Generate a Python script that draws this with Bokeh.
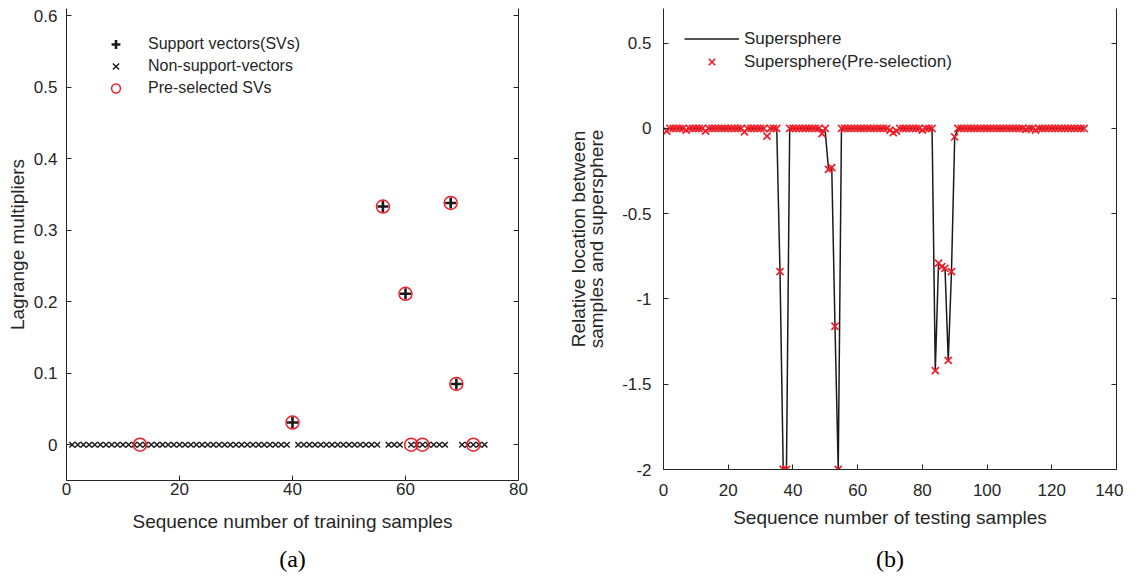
from bokeh.plotting import figure
from bokeh.layouts import row
from bokeh.models import (LinearAxis, FixedTicker, Legend, LegendItem, Title, Range1d,
                          CustomJSTickFormatter)
from bokeh.embed import file_html
from bokeh.resources import INLINE

# ---------------- data: panel (a) ----------------
nonsv_seq = [1, 2, 3, 4, 5, 6, 7, 8, 9, 10, 11, 12, 13, 14, 15, 16, 17, 18, 19, 20,
             21, 22, 23, 24, 25, 26, 27, 28, 29, 30, 31, 32, 33, 34, 35, 36, 37, 38, 39,
             41, 42, 43, 44, 45, 46, 47, 48, 49, 50, 51, 52, 53, 54, 55,
             57, 58, 59, 61, 62, 63, 64, 65, 66, 67, 70, 71, 72, 73, 74]
nonsv_val = [0, 0, 0, 0, 0, 0, 0, 0, 0, 0, 0, 0, 0, 0, 0, 0, 0, 0, 0, 0,
             0, 0, 0, 0, 0, 0, 0, 0, 0, 0, 0, 0, 0, 0, 0, 0, 0, 0, 0,
             0, 0, 0, 0, 0, 0, 0, 0, 0, 0, 0, 0, 0, 0, 0,
             0, 0, 0, 0, 0, 0, 0, 0, 0, 0, 0, 0, 0, 0, 0]
sv_seq = [40, 56, 60, 68, 69]
sv_val = [0.031, 0.333, 0.211, 0.338, 0.085]
presel_seq = [13, 40, 56, 60, 61, 63, 68, 69, 72]
presel_val = [0, 0.031, 0.333, 0.211, 0, 0, 0.338, 0.085, 0]

a_xticks = [0, 20, 40, 60, 80]
a_xlabels = ["0", "20", "40", "60", "80"]
a_yticks = [0, 0.1, 0.2, 0.3, 0.4, 0.5, 0.6]
a_ylabels = ["0", "0.1", "0.2", "0.3", "0.4", "0.5", "0.6"]

# ---------------- data: panel (b) ----------------
test_seq = list(range(1, 131))
sphere_val = [
    -0.015, 0, 0, 0, 0, 0, -0.01, 0, 0, 0,
    0, 0, -0.015, 0, 0, 0, 0, 0, 0, 0,
    0, 0, 0, 0, -0.02, 0, 0, 0, 0, 0,
    0, -0.02, 0, 0, 0, -0.84, -2, -2, 0, 0,
    0, 0, 0, 0, 0, 0, 0, 0, -0.01, -0.02,
    -0.24, -0.23, -1.16, -2, 0, 0, 0, 0, 0, 0,
    0, 0, 0, 0, 0, 0, 0, 0, 0, -0.01,
    -0.025, -0.015, 0, 0, 0, 0, 0, 0, 0, -0.01,
    0, 0, 0, -1.42, -0.79, -0.81, -0.82, -1.36, -0.84, -0.05,
    0, 0, 0, 0, 0, 0, 0, 0, 0, 0,
    0, 0, 0, 0, 0, 0, 0, 0, 0, 0,
    0, -0.005, 0, 0, -0.01, 0, 0, 0, 0, 0,
    0, 0, 0, 0, 0, 0, 0, 0, 0, 0]
presphere_val = [
    -0.015, 0, 0, 0, 0, 0, -0.01, 0, 0, 0,
    0, 0, -0.015, 0, 0, 0, 0, 0, 0, 0,
    0, 0, 0, 0, -0.02, 0, 0, 0, 0, 0,
    0, -0.045, 0, 0, 0, -0.84, -2, -2, 0, 0,
    0, 0, 0, 0, 0, 0, 0, 0, -0.03, 0,
    -0.24, -0.23, -1.16, -2, 0, 0, 0, 0, 0, 0,
    0, 0, 0, 0, 0, 0, 0, 0, 0, -0.01,
    -0.025, -0.015, 0, 0, 0, 0, 0, 0, 0, -0.01,
    0, 0, 0, -1.42, -0.79, -0.81, -0.82, -1.36, -0.84, -0.05,
    0, 0, 0, 0, 0, 0, 0, 0, 0, 0,
    0, 0, 0, 0, 0, 0, 0, 0, 0, 0,
    0, -0.005, 0, 0, -0.01, 0, 0, 0, 0, 0,
    0, 0, 0, 0, 0, 0, 0, 0, 0, 0]

b_xticks = [0, 20, 40, 60, 80, 100, 120, 140]
b_xlabels = ["0", "20", "40", "60", "80", "100", "120", "140"]
b_yticks = [-2, -1.5, -1, -0.5, 0, 0.5]
b_ylabels = ["-2", "-1.5", "-1", "-0.5", "0", "0.5"]

# ---------------- styling ----------------
FONT = "Liberation Sans"
SERIF = "Liberation Serif"
INK = "#262626"
RED = "#f01e28"


def style_axes(p, xt, xl, yt, yl, xlab, ylab, xstand, ystand, xlstand, ylstand):
    p.outline_line_color = None
    p.grid.visible = False
    p.background_fill_color = "white"
    p.border_fill_color = "white"
    for ax in (p.xaxis[0], p.yaxis[0]):
        ax.axis_line_color = INK
        ax.axis_line_width = 1
        ax.major_tick_line_color = INK
        ax.major_tick_in = 5
        ax.major_tick_out = 0
        ax.minor_tick_line_color = None
        ax.major_label_text_font = FONT
        ax.major_label_text_font_size = "17px"
        ax.major_label_text_color = INK
        ax.axis_label_text_font = FONT
        ax.axis_label_text_font_size = "19px"
        ax.axis_label_text_font_style = "normal"
        ax.axis_label_text_color = INK
        ax.axis_label_text_line_height = 0.88
    p.xaxis[0].ticker = FixedTicker(ticks=xt)
    p.xaxis[0].major_label_overrides = {t: l for t, l in zip(xt, xl)}
    p.yaxis[0].ticker = FixedTicker(ticks=yt)
    p.yaxis[0].major_label_overrides = {t: l for t, l in zip(yt, yl)}
    p.xaxis[0].axis_label = xlab
    p.yaxis[0].axis_label = ylab
    p.xaxis[0].major_label_standoff = xstand
    p.yaxis[0].major_label_standoff = ystand
    p.xaxis[0].axis_label_standoff = xlstand
    p.yaxis[0].axis_label_standoff = ylstand
    ra = LinearAxis(ticker=FixedTicker(ticks=yt),
                    formatter=CustomJSTickFormatter(code="return ''"),
                    major_tick_in=5, major_tick_out=0, minor_tick_line_color=None,
                    axis_line_color=INK, major_tick_line_color=INK,
                    major_label_standoff=0)
    p.add_layout(ra, "right")


# ---------------- panel (a) ----------------
pa = figure(frame_width=452, frame_height=472,
            x_range=Range1d(0, 80), y_range=Range1d(-0.05, 0.6098),
            output_backend="svg", toolbar_location=None,
            min_border_left=66, min_border_right=42, min_border_top=8,
            min_border_bottom=89)
style_axes(pa, a_xticks, a_xlabels, a_yticks, a_ylabels,
           "Sequence number of training samples", "Lagrange multipliers",
           2, 9, 13, 3)

r_non = pa.scatter(nonsv_seq, nonsv_val, marker="x", size=8, line_width=1.4,
                   line_color="#1a1a1a")
r_sv = pa.scatter(sv_seq, sv_val, marker="cross", size=11, line_width=2.6,
                  line_color="#1a1a1a")
r_pre = pa.scatter(presel_seq, presel_val, marker="circle", size=13, line_width=1.5,
                   line_color=RED, fill_color=None)

leg_a = Legend(items=[LegendItem(label="Support vectors(SVs)", renderers=[r_sv]),
                      LegendItem(label="Non-support-vectors", renderers=[r_non]),
                      LegendItem(label="Pre-selected SVs", renderers=[r_pre])],
               location=(22, 381), glyph_width=55, glyph_height=22, label_height=22,
               label_standoff=5, spacing=0, padding=0, margin=0,
               border_line_color=None, background_fill_alpha=0,
               label_text_font=FONT, label_text_font_size="16px",
               label_text_color=INK)
pa.add_layout(leg_a)
pa.add_layout(Title(text="(a)", align="center", text_font=SERIF,
                    text_font_size="24px", text_font_style="normal",
                    text_color="black", standoff=18), "below")

# ---------------- panel (b) ----------------
pb = figure(frame_width=453, frame_height=461,
            x_range=Range1d(0, 140), y_range=Range1d(-2, 0.7034),
            output_backend="svg", toolbar_location=None,
            min_border_left=103, min_border_right=7, min_border_top=8,
            min_border_bottom=100)
style_axes(pb, b_xticks, b_xlabels, b_yticks, b_ylabels,
           "Sequence number of testing samples",
           "Relative location between\nsamples and supersphere",
           14, 12, 8, 12)

r_line = pb.line(test_seq, sphere_val, line_color="#1a1a1a", line_width=1.5)
r_x = pb.scatter(test_seq, presphere_val, marker="x", size=10, line_width=1.7,
                 line_color=RED)

leg_b = Legend(items=[LegendItem(label="Supersphere", renderers=[r_line]),
                      LegendItem(label="Supersphere(Pre-selection)", renderers=[r_x])],
               location=(21, 396), glyph_width=55, glyph_height=23, label_height=23,
               label_standoff=5, spacing=0, padding=0, margin=0,
               border_line_color=None, background_fill_alpha=0,
               label_text_font=FONT, label_text_font_size="17px",
               label_text_color=INK)
pb.add_layout(leg_b)
pb.add_layout(Title(text="(b)", align="center", text_font=SERIF,
                    text_font_size="24px", text_font_style="normal",
                    text_color="black", standoff=27), "below")

layout = row(pa, pb)
open("out.html", "w").write(file_html(layout, INLINE))
